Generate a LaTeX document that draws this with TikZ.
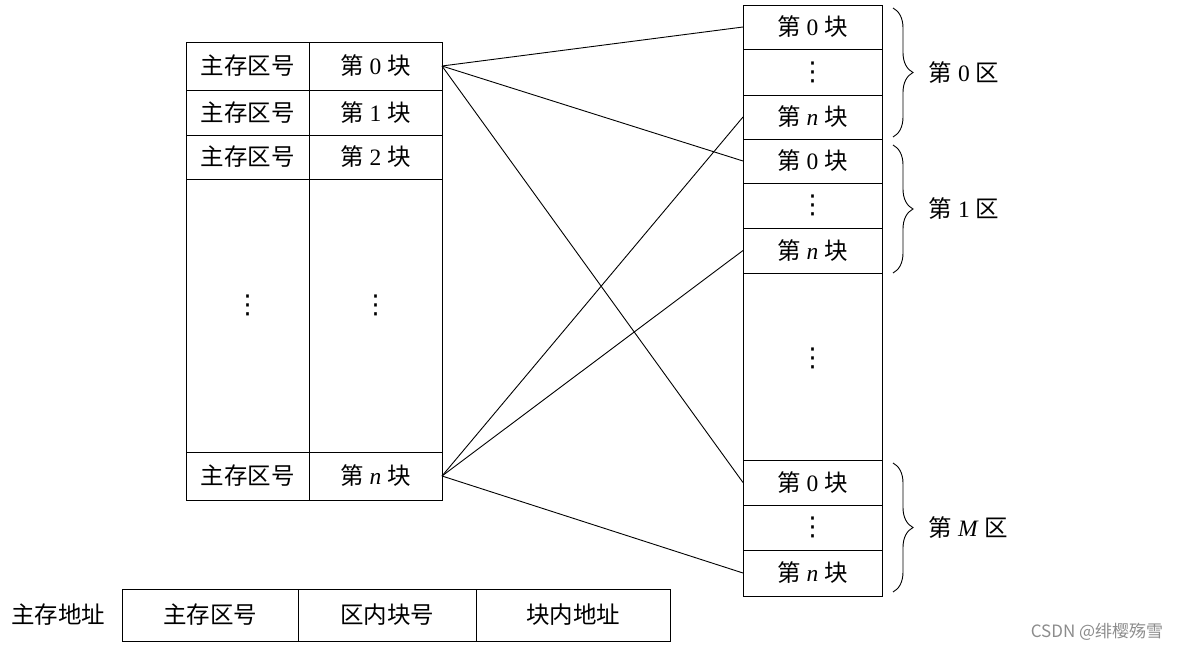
\documentclass[tikz,border=0pt]{standalone}
\usepackage{fontspec}
\setmainfont{Liberation Serif}
\newfontfamily\cjk{Noto Sans CJK SC}
\newfontfamily\symb{DejaVu Sans}
\usetikzlibrary{positioning,decorations.pathreplacing}
\newcommand\blockno[1]{{\cjk 第} #1 {\cjk 块}}
\newcommand\zoneno[1]{{\cjk 第} #1 {\cjk 区}}
\newcommand\vdotsbig{{\symb\fontsize{26}{30}\selectfont ⋮}}
\tikzset{
  every node/.style={font=\fontsize{23.5}{28}\selectfont},
  cell/.style    ={draw,line width=1pt,inner sep=0pt,outer sep=0pt,align=center},
  leftA/.style   ={cell,minimum width=123pt},
  leftB/.style   ={cell,minimum width=133pt},
  mem/.style     ={cell,minimum width=139pt},
  field/.style   ={cell,minimum height=52pt},
  link/.style    ={line width=0.9pt},
  zone/.style    ={decorate,decoration={brace,amplitude=20pt},line width=0.9pt}
}
\begin{document}
\begin{tikzpicture}[x=1pt,y=-1pt]
    \useasboundingbox (0,0) rectangle (1179,651);
    % cache side
    \node[leftA,minimum height=48pt,anchor=north west] (a0) at (186,42) {\cjk 主存区号};
    \node[leftB,minimum height=48pt,right=0pt of a0] (b0) {\blockno{0}};
    \node[leftA,minimum height=45pt,below=0pt of a0] (a1) {\cjk 主存区号};
    \node[leftB,minimum height=45pt,below=0pt of b0] (b1) {\blockno{1}};
    \node[leftA,minimum height=44pt,below=0pt of a1] (a2) {\cjk 主存区号};
    \node[leftB,minimum height=44pt,below=0pt of b1] (b2) {\blockno{2}};
    \node[leftA,minimum height=273pt,below=0pt of a2] (a3) {\raisebox{23pt}{\vdotsbig}};
    \node[leftB,minimum height=273pt,below=0pt of b2] (b3) {\raisebox{23pt}{\vdotsbig}};
    \node[leftA,minimum height=48pt,below=0pt of a3] (an) {\cjk 主存区号};
    \node[leftB,minimum height=48pt,below=0pt of b3] (bn) {\blockno{\textit{n}}};
    % main memory side
    \node[mem,minimum height=44pt,anchor=north west] (m00) at (743,5) {\blockno{0}};
    \node[mem,minimum height=46pt,below=0pt of m00] (m0d) {\vdotsbig};
    \node[mem,minimum height=44pt,below=0pt of m0d] (m0n) {\blockno{\textit{n}}};
    \node[mem,minimum height=44pt,below=0pt of m0n] (m10) {\blockno{0}};
    \node[mem,minimum height=45pt,below=0pt of m10] (m1d) {\vdotsbig};
    \node[mem,minimum height=45pt,below=0pt of m1d] (m1n) {\blockno{\textit{n}}};
    \node[mem,minimum height=187pt,below=0pt of m1n] (mdd) {\raisebox{19pt}{\vdotsbig}};
    \node[mem,minimum height=45pt,below=0pt of mdd] (mM0) {\blockno{0}};
    \node[mem,minimum height=45pt,below=0pt of mM0] (mMd) {\vdotsbig};
    \node[mem,minimum height=46pt,below=0pt of mMd] (mMn) {\blockno{\textit{n}}};
    % zones
    \coordinate (z0t) at (893,8);   \coordinate (z0b) at (893,137);
    \coordinate (z1t) at (893,145); \coordinate (z1b) at (893,273);
    \coordinate (zMt) at (893,463); \coordinate (zMb) at (893,592);
    \draw[zone] (z0t) -- (z0b) node[midway,right=32pt] (l0) {\zoneno{0}};
    \draw[zone] (z1t) -- (z1b) node[midway,right=32pt] (l1) {\zoneno{1}};
    \draw[zone] (zMt) -- (zMb) node[midway,right=32pt] (lM) {\zoneno{\textit{M}}};
    % mapping
    \draw[link] (b0.east) -- (m00.west);
    \draw[link] (b0.east) -- (m10.west);
    \draw[link] (b0.east) -- (mM0.west);
    \draw[link] (bn.east) -- (m0n.west);
    \draw[link] (bn.east) -- (m1n.west);
    \draw[link] (bn.east) -- (mMn.west);
    % address format
    \node[field,minimum width=176pt,anchor=north west] (f1) at (122,589) {\cjk 主存区号};
    \node[field,minimum width=178pt,right=0pt of f1] (f2) {\cjk 区内块号};
    \node[field,minimum width=194pt,right=0pt of f2] (f3) {\cjk 块内地址};
    \node[left=13pt of f1] (addr) {\cjk 主存地址};
    \node[text=black!45,font=\cjk\fontsize{17}{20}\selectfont] (mark) at (1097,632) {CSDN @绯樱殇雪};
\end{tikzpicture}
\end{document}
